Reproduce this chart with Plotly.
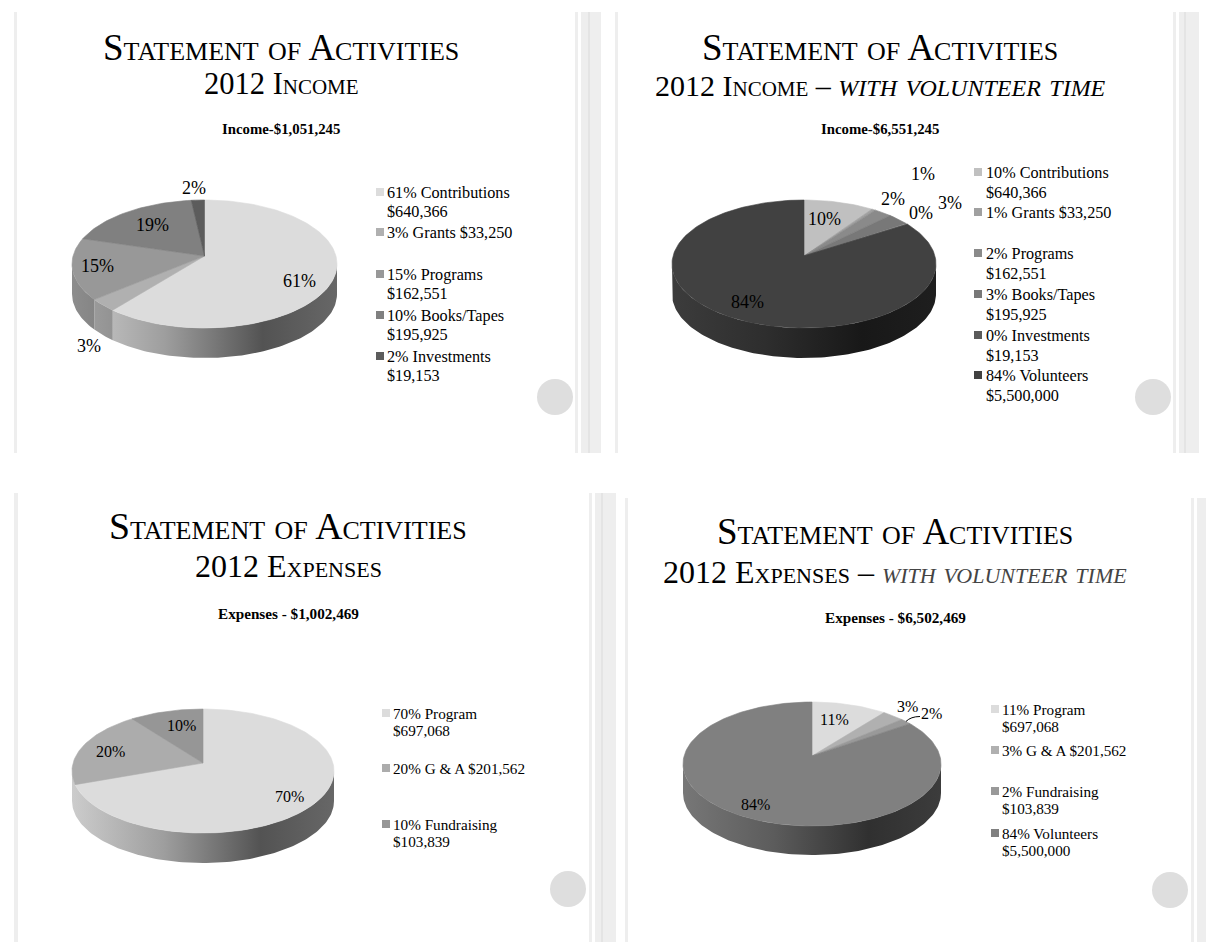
import math
import plotly.graph_objects as go

# ---------- data ----------
income_values = [640366, 33250, 162551, 195925, 19153]
income_legend = ["61% Contributions<br>$640,366", "3% Grants $33,250", "15% Programs<br>$162,551",
                 "10% Books/Tapes<br>$195,925", "2% Investments<br>$19,153"]
income_labels = ["61%", "3%", "15%", "19%", "2%"]

income_vol_values = [640366, 33250, 162551, 195925, 19153, 5500000]
income_vol_legend = ["10% Contributions<br>$640,366", "1% Grants $33,250", "2% Programs<br>$162,551",
                     "3% Books/Tapes<br>$195,925", "0% Investments<br>$19,153", "84% Volunteers<br>$5,500,000"]
income_vol_labels = ["10%", "1%", "2%", "3%", "0%", "84%"]

expense_values = [697068, 201562, 103839]
expense_legend = ["70% Program<br>$697,068", "20% G &amp; A $201,562", "10% Fundraising<br>$103,839"]
expense_labels = ["70%", "20%", "10%"]

expense_vol_values = [697068, 201562, 103839, 5500000]
expense_vol_legend = ["11% Program<br>$697,068", "3% G &amp; A $201,562", "2% Fundraising<br>$103,839",
                      "84% Volunteers<br>$5,500,000"]
expense_vol_labels = ["11%", "3%", "2%", "84%"]

main_title = "Statement of Activities"

# ---------- layout / style ----------
FONT = "Liberation Serif"
ITALIC_A = '<span style="font-size:34px"><i>with volunteer time</i></span>'
ITALIC_B = '<span style="font-size:31.3px;fill:#444444"><i>with volunteer time</i></span>'
slides = [
    dict(values=income_values, legend=income_legend, labels=income_labels,
         colors=["#dcdcdc", "#b0b0b0", "#989898", "#808080", "#5c5c5c"],
         title_xy=(281, 47), title_size=37, sub="2012 Income", sub_xy=(281, 84), sub_size=30.5,
         head="<b>Income-$1,051,245</b>", head_xy=(281, 129), head_size=14.8,
         cx=204.5, cy=264, rx=132.5, ry=64, apex=(204.5, 256), depth=30,
         label_xy=[(299, 281), (89, 346), (97, 266), (152, 225), (194, 188)],
         leg_x=380, leg_y=[193, 233, 275, 316, 357], leg_size=16.2, leg_gap=19, leg_dy=0, leg_dx=5, label_size=18),
    dict(values=income_vol_values, legend=income_vol_legend, labels=income_vol_labels,
         colors=["#c0c0c0", "#a0a0a0", "#8a8a8a", "#787878", "#5a5a5a", "#414141"],
         title_xy=(880, 47), title_size=37, sub="2012 Income – " + ITALIC_A, sub_xy=(880, 84), sub_size=30,
         head="<b>Income-$6,551,245</b>", head_xy=(880, 129), head_size=14.8,
         cx=804, cy=264, rx=132, ry=64, apex=(804, 256), depth=30,
         label_xy=[(824, 219), (923, 174), (893, 199), (950, 203), (921, 213), (747, 302)],
         leg_x=978, leg_y=[173, 213, 254, 295, 336, 376], leg_size=16.2, leg_gap=19.5, leg_dy=0, leg_dx=6, label_size=18),
    dict(values=expense_values, legend=expense_legend, labels=expense_labels,
         colors=["#dcdcdc", "#acacac", "#969696"],
         title_xy=(288, 526), title_size=37.8, sub="2012 Expenses", sub_xy=(288, 566), sub_size=32,
         head="<b>Expenses - $1,002,469</b>", head_xy=(288, 613), head_size=15.2,
         cx=203, cy=771, rx=131, ry=62, apex=(203, 763), depth=30,
         label_xy=[(289, 796), (110, 751), (181, 725)],
         leg_x=386, leg_y=[714, 769, 825], leg_size=15.2, leg_gap=17, leg_dy=-1, leg_dx=5, label_size=16),
    dict(values=expense_vol_values, legend=expense_vol_legend, labels=expense_vol_labels,
         colors=["#dcdcdc", "#b0b0b0", "#999999", "#808080"],
         title_xy=(895, 531), title_size=37, sub="2012 Expenses – " + ITALIC_B, sub_xy=(895, 572), sub_size=32,
         head="<b>Expenses - $6,502,469</b>", head_xy=(895, 617), head_size=15.2,
         cx=812, cy=764, rx=129, ry=62, apex=(812, 756), depth=29,
         label_xy=[(834, 719), (907, 706), (931, 713), (755, 804)],
         leg_x=995, leg_y=[710, 751, 792, 834], leg_size=15.2, leg_gap=17, leg_dy=-1, leg_dx=5, label_size=16),
]
GREY = "#eeeeee"
bands = [(14, 17, 12, 453), (575, 578, 12, 453), (581, 601, 12, 453), (588, 590, 12, 453),
         (615, 618, 12, 453), (1173, 1176, 12, 453), (1179, 1199, 12, 453), (1184, 1186, 12, 453),
         (14, 18, 493, 942), (589, 592, 493, 942), (595, 616, 493, 942), (601, 603, 493, 942),
         (625, 628, 498, 942), (1191, 1194, 498, 942), (1197, 1206, 498, 942)]
circles = [(555, 397), (1153, 397), (568, 889), (1170, 890)]
shade_stops = [(0.0, 0.93), (0.35, 0.72), (0.72, 0.38), (1.0, 0.47)]


def shade(hexcol, f):
    r, g, b = (int(hexcol[i:i + 2], 16) for i in (1, 3, 5))
    return "rgb(%d,%d,%d)" % (r * f, g * f, b * f)


fig = go.Figure()
shapes, annos = [], []
for (x0, x1, y0, y1) in bands:
    col = "#e4e4e4" if (x1 - x0) == 2 else GREY
    shapes.append(dict(type="rect", x0=x0, x1=x1, y0=y0, y1=y1, fillcolor=col, line_width=0, layer="below"))
for (x, y) in circles:
    shapes.append(dict(type="circle", x0=x - 18, x1=x + 18, y0=y - 18, y1=y + 18, fillcolor="#dedede", line_width=0, layer="below"))


def warp(s, frac):
    """Share of the pie -> position round the rim, seen in perspective from the apex."""
    a = 2 * math.pi * frac
    dx, dy = s["rx"] * math.sin(a), -s["ry"] * math.cos(a)
    off = s["apex"][1] - s["cy"]
    A = (dx / s["rx"]) ** 2 + (dy / s["ry"]) ** 2
    B = 2 * dy * off / s["ry"] ** 2
    C = (off / s["ry"]) ** 2 - 1
    t = (-B + math.sqrt(B * B - 4 * A * C)) / (2 * A)
    px, py = dx * t / s["rx"], (off + dy * t) / s["ry"]
    w = math.atan2(px, -py) / (2 * math.pi)
    if w < 0:
        w += 1
    if frac > 0.999:
        w = 1.0
    return w


def rim(s, w, dy=0.0):
    a = 2 * math.pi * w
    return s["cx"] + s["rx"] * math.sin(a), s["cy"] - s["ry"] * math.cos(a) + dy


def note(text, x, y, size, color="#000000", anchor="center", variant=None):
    f = dict(family=FONT, size=size, color=color)
    if variant:
        f["variant"] = variant
    annos.append(dict(text=text, x=x, y=y, xref="x", yref="y", showarrow=False, xanchor=anchor,
                      yanchor="middle", align="left" if anchor == "left" else "center", font=f))


for s in slides:
    total = sum(s["values"])
    fracs, acc = [], 0.0
    for v in s["values"]:
        fracs.append((warp(s, acc), warp(s, acc + v / total)))
        acc += v / total
    left, right = s["cx"] - s["rx"], s["cx"] + s["rx"]
    # side walls (front half only); a sliver at the far left merges into the slice before it
    walls = []
    for (a, b), col in zip(fracs, s["colors"]):
        lo, hi = max(a, 0.25), min(b, 0.75)
        if hi > lo:
            walls.append([lo, hi, col])
    if len(walls) > 1 and walls[-1][1] - walls[-1][0] < 0.05:
        walls[-2][1] = walls[-1][1]
        walls.pop()
    for lo, hi, col in walls:
        n = max(2, int((hi - lo) * 240))
        ts = [lo + (hi - lo) * i / n for i in range(n + 1)]
        top = [rim(s, t) for t in ts]
        bot = [rim(s, t, s["depth"]) for t in reversed(ts)]
        xs = [p[0] for p in top + bot] + [top[0][0]]
        ys = [p[1] for p in top + bot] + [top[0][1]]
        fig.add_trace(go.Scatter(
            x=xs, y=ys, mode="lines", fill="toself", line=dict(width=0, color=col), showlegend=False, hoverinfo="skip",
            fillgradient=dict(type="horizontal", start=left, stop=right,
                              colorscale=[[p, shade(col, f)] for p, f in shade_stops])))
    # top faces
    for (a, b), col in zip(fracs, s["colors"]):
        n = max(2, int((b - a) * 240))
        pts = [rim(s, a + (b - a) * i / n) for i in range(n + 1)]
        ax, ay = s["apex"]
        fig.add_trace(go.Scatter(
            x=[ax] + [p[0] for p in pts] + [ax], y=[ay] + [p[1] for p in pts] + [ay], mode="lines", fill="toself",
            fillcolor=col, line=dict(width=0.6, color=col), showlegend=False, hoverinfo="skip"))
    # slice labels
    for t, (x, y) in zip(s["labels"], s["label_xy"]):
        note(t, x, y, s["label_size"])
    # legend
    fig.add_trace(go.Scatter(x=[s["leg_x"]] * len(s["colors"]), y=[y - 1 for y in s["leg_y"]], mode="markers",
                             marker=dict(symbol="square", size=8, color=s["colors"], line_width=0),
                             showlegend=False, hoverinfo="skip"))
    for t, y in zip(s["legend"], s["leg_y"]):
        for i, line in enumerate(t.split("<br>")):
            note(line, s["leg_x"] + s["leg_dx"], y + s["leg_dy"] + i * s["leg_gap"], s["leg_size"], anchor="left")
    # titles
    note(main_title, s["title_xy"][0], s["title_xy"][1], s["title_size"], variant="small-caps")
    note(s["sub"], s["sub_xy"][0], s["sub_xy"][1], s["sub_size"], variant="small-caps")
    note(s["head"], s["head_xy"][0], s["head_xy"][1], s["head_size"])

# leader line of the 2% slice on the last slide
s4 = slides[3]
tot4 = sum(s4["values"])
mid = warp(s4, (s4["values"][0] + s4["values"][1] + s4["values"][2] / 2) / tot4)
lx, ly = rim(s4, mid)
shapes.append(dict(type="path", path="M %.1f %.1f Q %.1f %.1f %.1f %.1f" % (lx, ly, lx + 5, ly - 5, s4["label_xy"][2][0] - 11, ly - 5),
                   line=dict(color="#000000", width=1)))

fig.update_layout(
    width=1206, height=942, autosize=False, margin=dict(l=0, r=0, t=0, b=0),
    paper_bgcolor="#ffffff", plot_bgcolor="#ffffff", showlegend=False,
    xaxis=dict(range=[0, 1206], visible=False, fixedrange=True),
    yaxis=dict(range=[942, 0], visible=False, fixedrange=True),
    shapes=shapes, annotations=annos)
fig.write_html("out.html", config={"displayModeBar": False},
               post_script="document.body.style.margin='0';")
